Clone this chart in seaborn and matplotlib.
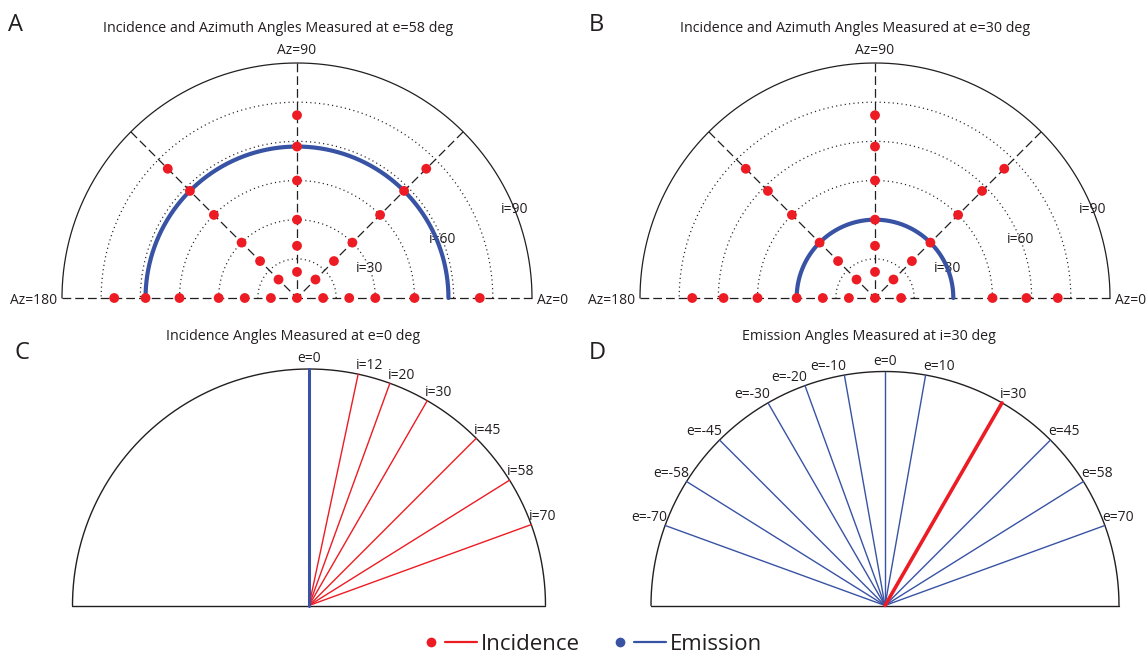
import numpy as np
import pandas as pd
import matplotlib
matplotlib.use("Agg")
import matplotlib.pyplot as plt
import seaborn as sns
from matplotlib.lines import Line2D
from matplotlib.legend_handler import HandlerBase

# ---------------- data ----------------
ring_levels = [15, 30, 45, 60, 75]          # dotted incidence rings (deg)
ring_label_values = [30, 60, 90]            # ring labels
spoke_az = [0, 45, 90, 135, 180]            # azimuth spokes (deg)
inc_full = [10, 20, 30, 45, 58, 70]         # incidence samples along each spoke

# panel A (e=58)
a_emission = 58
a_inc_az0 = [10, 20, 30, 45, 70]
a_inc_az45 = [10, 20, 30, 45, 58, 70]
a_inc_az90 = [10, 20, 30, 45, 58, 70]
a_inc_az135 = [10, 20, 30, 45, 58, 70]
a_inc_az180 = [10, 20, 30, 45, 58, 70]

# panel B (e=30)
b_emission = 30
b_inc_az0 = [10, 45, 58, 70]
b_inc_az45 = [10, 20, 30, 45, 58, 70]
b_inc_az90 = [10, 20, 30, 45, 58, 70]
b_inc_az135 = [10, 20, 30, 45, 58, 70]
b_inc_az180 = [10, 20, 30, 45, 58, 70]

# panel C (e=0)
c_emission = 0
c_incidence = [12, 20, 30, 45, 58, 70]

# panel D (i=30)
d_incidence = 30
d_emission = [-70, -58, -45, -30, -20, -10, 0, 10, 45, 58, 70]

titles = {
    "A": "Incidence and Azimuth Angles Measured at e=58 deg",
    "B": "Incidence and Azimuth Angles Measured at e=30 deg",
    "C": "Incidence Angles Measured at e=0 deg",
    "D": "Emission Angles Measured at i=30 deg",
}

# ---------------- style ----------------
RED = "#ed1c24"
BLUE = "#3953a4"
INK = "#231f20"

sns.set_theme(style="white")
plt.rcParams["font.family"] = ["Open Sans", "DejaVu Sans"]
plt.rcParams["text.color"] = INK

W, H = 1148, 653
fig = plt.figure(figsize=(W / 100, H / 100), dpi=100)
fig.patch.set_facecolor("white")


def px_axes(cx, cy, R, xlim, ylim):
    left = cx + xlim[0] * R
    right = cx + xlim[1] * R
    top = cy - ylim[1] * R
    bottom = cy - ylim[0] * R
    ax = fig.add_axes([left / W, 1 - bottom / H, (right - left) / W, (bottom - top) / H])
    ax.set_xlim(xlim)
    ax.set_ylim(ylim)
    ax.set_aspect("equal", adjustable="box")
    ax.axis("off")
    return ax


theta = np.linspace(0, np.pi, 400)
LBL = 10


def polar_panel(ax, letter, emission, inc_lists):
    # outer semicircle
    ax.plot(np.cos(theta), np.sin(theta), color=INK, lw=0.9, clip_on=False)
    # dotted rings
    for lev in ring_levels:
        r = lev / 90
        ax.plot(r * np.cos(theta), r * np.sin(theta), color=INK, lw=0.9,
                ls=(0, (0.9, 2.6)), clip_on=False)
    # dashed spokes
    for az in spoke_az:
        a = np.deg2rad(az)
        ax.plot([np.cos(a), 0], [np.sin(a), 0], color=INK, lw=0.9,
                ls=(0, (7, 3.2)), clip_on=False)
    # emission ring
    r = emission / 90
    ring = pd.DataFrame({"x": r * np.cos(theta), "y": r * np.sin(theta)})
    sns.lineplot(data=ring, x="x", y="y", sort=False, estimator=None, ax=ax,
                 color=BLUE, lw=3.0, zorder=4, clip_on=False)
    # incidence points
    rows = [{"az": 0, "inc": 0}]
    for az, incs in zip(spoke_az, inc_lists):
        for i in incs:
            rows.append({"az": az, "inc": i})
    df = pd.DataFrame(rows)
    df["x"] = df["inc"] / 90 * np.cos(np.deg2rad(df["az"]))
    df["y"] = df["inc"] / 90 * np.sin(np.deg2rad(df["az"]))
    sns.scatterplot(data=df, x="x", y="y", ax=ax, color=RED, s=50,
                    edgecolor="none", zorder=5, clip_on=False)
    # labels
    ax.text(0, 1.02, "Az=90", ha="center", va="bottom", fontsize=LBL)
    ax.text(-1.02, -0.012, "Az=180", ha="right", va="center", fontsize=LBL)
    ax.text(1.02, -0.012, "Az=0", ha="left", va="center", fontsize=LBL)
    ang = np.deg2rad(22)
    for v in ring_label_values:
        rr = v / 90
        ax.text(rr * np.cos(ang), rr * np.sin(ang), f"i={v}", ha="center",
                va="center", fontsize=LBL)
    ax.set_xlabel("")
    ax.set_ylabel("")


def ray_frame(ax):
    ax.plot(np.cos(theta), np.sin(theta), color=INK, lw=1.0, clip_on=False)
    ax.plot([-1, 1], [0, 0], color=INK, lw=1.0, clip_on=False)


def rays_df(angles):
    rows = []
    for k, a in enumerate(angles):
        rad = np.deg2rad(a)
        rows.append({"ray": k, "ang": a, "x": 0.0, "y": 0.0})
        rows.append({"ray": k, "ang": a, "x": np.sin(rad), "y": np.cos(rad)})
    return pd.DataFrame(rows)


def ray_label(ax, a, text):
    rad = np.deg2rad(a)
    x, y = np.sin(rad), np.cos(rad)
    if a == 0:
        ax.text(x, y + 0.012, text, ha="center", va="bottom", fontsize=LBL)
    elif a > 0:
        ax.text(x - 0.01, y + 0.003, text, ha="left", va="bottom", fontsize=LBL)
    else:
        ax.text(x + 0.01, y + 0.003, text, ha="right", va="bottom", fontsize=LBL)


# ---------------- panels A & B ----------------
R_top = 235
axA = px_axes(297, 298, R_top, (-1.25, 1.25), (-0.05, 1.12))
polar_panel(axA, "A", a_emission, [a_inc_az0, a_inc_az45, a_inc_az90, a_inc_az135, a_inc_az180])
axB = px_axes(875, 298, R_top, (-1.25, 1.25), (-0.05, 1.12))
polar_panel(axB, "B", b_emission, [b_inc_az0, b_inc_az45, b_inc_az90, b_inc_az135, b_inc_az180])

# ---------------- panel C ----------------
axC = px_axes(309, 605.5, 236.5, (-1.2, 1.2), (-0.03, 1.1))
ray_frame(axC)
dfc = rays_df(c_incidence)
sns.lineplot(data=dfc, x="x", y="y", units="ray", estimator=None, sort=False,
             ax=axC, color=RED, lw=1.0, zorder=3)
dfe = rays_df([c_emission])
sns.lineplot(data=dfe, x="x", y="y", units="ray", estimator=None, sort=False,
             ax=axC, color=BLUE, lw=2.2, zorder=4)
ray_label(axC, c_emission, f"e={c_emission}")
for a in c_incidence:
    ray_label(axC, a, f"i={a}")

# ---------------- panel D ----------------
axD = px_axes(885, 605.5, 234, (-1.2, 1.2), (-0.03, 1.1))
ray_frame(axD)
dfd = rays_df(d_emission)
sns.lineplot(data=dfd, x="x", y="y", units="ray", estimator=None, sort=False,
             ax=axD, color=BLUE, lw=1.0, zorder=3)
dfi = rays_df([d_incidence])
sns.lineplot(data=dfi, x="x", y="y", units="ray", estimator=None, sort=False,
             ax=axD, color=RED, lw=2.6, zorder=4)
for a in d_emission:
    ray_label(axD, a, f"e={a}")
ray_label(axD, d_incidence, f"i={d_incidence}")

for ax in (axA, axB, axC, axD):
    ax.set_xlabel("")
    ax.set_ylabel("")
    ax.axis("off")

# ---------------- titles & letters ----------------
TT = 10.3
fig.text(278 / W, 1 - 29 / H, titles["A"], ha="center", va="center", fontsize=TT)
fig.text(855 / W, 1 - 28 / H, titles["B"], ha="center", va="center", fontsize=TT)
fig.text(293 / W, 1 - 337 / H, titles["C"], ha="center", va="center", fontsize=TT)
fig.text(869 / W, 1 - 337 / H, titles["D"], ha="center", va="center", fontsize=TT)

LT = 17
fig.text(8 / W, 1 - 13 / H, "A", ha="left", va="top", fontsize=LT)
fig.text(589 / W, 1 - 13 / H, "B", ha="left", va="top", fontsize=LT)
fig.text(14 / W, 1 - 341 / H, "C", ha="left", va="top", fontsize=LT)
fig.text(589 / W, 1 - 341 / H, "D", ha="left", va="top", fontsize=LT)


# ---------------- legend ----------------
class DotLineHandler(HandlerBase):
    def create_artists(self, legend, orig_handle, xdescent, ydescent, width,
                       height, fontsize, trans):
        c = orig_handle.get_color()
        y = height / 2 - ydescent
        dot = Line2D([0.1 * width - xdescent], [y], marker="o", ms=7, color=c,
                     ls="none", mec="none", transform=trans)
        line = Line2D([0.37 * width - xdescent, width - xdescent], [y, y],
                      color=c, lw=1.6, transform=trans)
        return [dot, line]


handles = [Line2D([], [], color=RED), Line2D([], [], color=BLUE)]
fig.legend(handles=handles, labels=["Incidence", "Emission"],
           handler_map={Line2D: DotLineHandler()}, loc="center",
           bbox_to_anchor=(594 / W, 8.5 / H), frameon=False, fontsize=16,
           handlelength=2.3, handletextpad=0.15, columnspacing=1.6, ncol=2,
           borderpad=0, borderaxespad=0)

fig.savefig("out.png", dpi=100, facecolor="white")
